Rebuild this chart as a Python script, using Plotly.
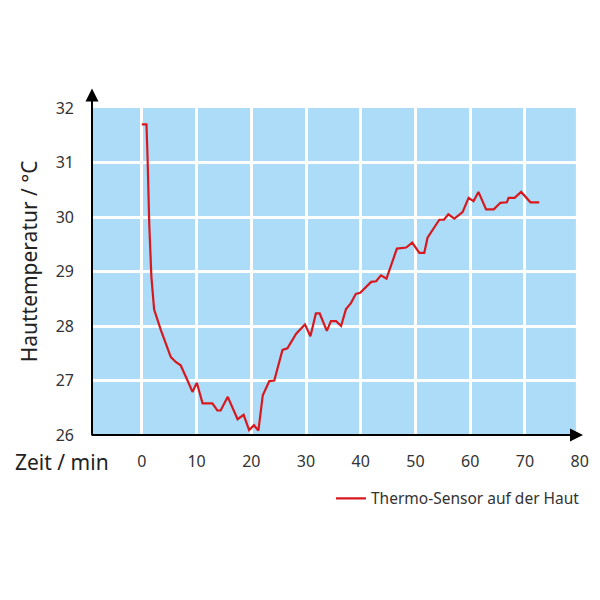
import plotly.graph_objects as go

zeit_min = [0, 0.85, 1.05, 1.35, 1.75, 2.25, 3.5, 5.3, 6.2, 7.1, 8.35, 9.25,
            10.05, 11.1, 12.9, 13.8, 14.4, 15.7, 17.5, 18.6, 19.6, 20.5, 21.3,
            22.1, 23.3, 24.2, 25.7, 26.6, 28.2, 29.8, 30.8, 31.8, 32.5, 33.8,
            34.55, 35.5, 36.4, 37.3, 38.2, 39.1, 39.9, 40.95, 41.9, 42.8, 43.7,
            44.7, 46.6, 48.3, 49.4, 50.7, 51.6, 52.2, 53.1, 54.35, 55.2, 56.0,
            57.1, 58.6, 59.7, 60.6, 61.5, 62.9, 64.3, 65.5, 66.7, 67.0, 68.1,
            69.3, 71.0, 72.6]
haut_temp = [31.7, 31.7, 31.1, 29.9, 28.9, 28.3, 27.92, 27.43, 27.34, 27.28,
             27.0, 26.79, 26.96, 26.58, 26.58, 26.45, 26.45, 26.7, 26.29, 26.37,
             26.09, 26.18, 26.08, 26.73, 26.99, 27.0, 27.56, 27.59, 27.86, 28.03,
             27.81, 28.23, 28.23, 27.91, 28.09, 28.09, 28.0, 28.31, 28.42, 28.59,
             28.61, 28.72, 28.81, 28.82, 28.93, 28.87, 29.42, 29.44, 29.53, 29.34,
             29.34, 29.62, 29.75, 29.95, 29.95, 30.05, 29.97, 30.09, 30.35, 30.29,
             30.46, 30.14, 30.14, 30.26, 30.27, 30.35, 30.35, 30.46, 30.27, 30.27]

x_ticks = [0, 10, 20, 30, 40, 50, 60, 70, 80]
y_ticks = [26, 27, 28, 29, 30, 31, 32]

X0, X1 = -9.1, 79.3
FONT = "Noto Sans"
TXT = "#333333"

fig = go.Figure()
fig.add_trace(go.Scatter(
    x=zeit_min, y=haut_temp, mode="lines",
    name="Thermo-Sensor auf der Haut",
    line=dict(color="#d7191f", width=2.2),
))

# blaue Fläche
fig.add_shape(type="rect", xref="x", yref="y", x0=X0, x1=X1, y0=26, y1=32,
              fillcolor="#acdcf7", line_width=0, layer="below")

# Achsenpfeile
fig.add_annotation(xref="x domain", yref="y domain", axref="x domain", ayref="y domain",
                   x=1.0, y=0, ax=-0.004, ay=0, text="", showarrow=True,
                   arrowhead=2, arrowsize=1.3, arrowwidth=2, arrowcolor="black")
fig.add_annotation(xref="x domain", yref="y domain", axref="x domain", ayref="y domain",
                   x=0, y=1.06, ax=0, ay=-0.004, text="", showarrow=True,
                   arrowhead=2, arrowsize=1.3, arrowwidth=2, arrowcolor="black")

# Achsentitel
fig.add_annotation(text="Zeit / min", xref="paper", yref="paper",
                   x=-0.16, y=-0.083, xanchor="left", yanchor="middle",
                   showarrow=False, font=dict(family=FONT, size=21, color="#222"))
fig.add_annotation(text="Hauttemperatur / °C", xref="paper", yref="paper",
                   x=-0.129, y=0.53, xanchor="center", yanchor="middle",
                   textangle=-90, showarrow=False,
                   font=dict(family=FONT, size=21, color="#222"))

fig.update_layout(
    width=600, height=600,
    margin=dict(l=84, r=25, t=100, b=173),
    paper_bgcolor="white", plot_bgcolor="white",
    font=dict(family=FONT, size=16, color=TXT),
    showlegend=True,
    legend=dict(orientation="h", x=1.004, xanchor="right", y=-0.195,
                yanchor="middle", font=dict(size=15.5, color=TXT)),
)
fig.update_xaxes(range=[X0, 80.6], tickvals=x_ticks, showgrid=True,
                 gridcolor="white", gridwidth=2.5, zeroline=False,
                 showline=False, ticks="", ticklabelstandoff=15,
                 automargin=False)
fig.update_yaxes(range=[26, 32], tickvals=y_ticks, showgrid=True,
                 gridcolor="white", gridwidth=2.5, zeroline=False,
                 showline=False, ticks="", ticklabelstandoff=17,
                 automargin=False)

fig.write_html("out.html")
